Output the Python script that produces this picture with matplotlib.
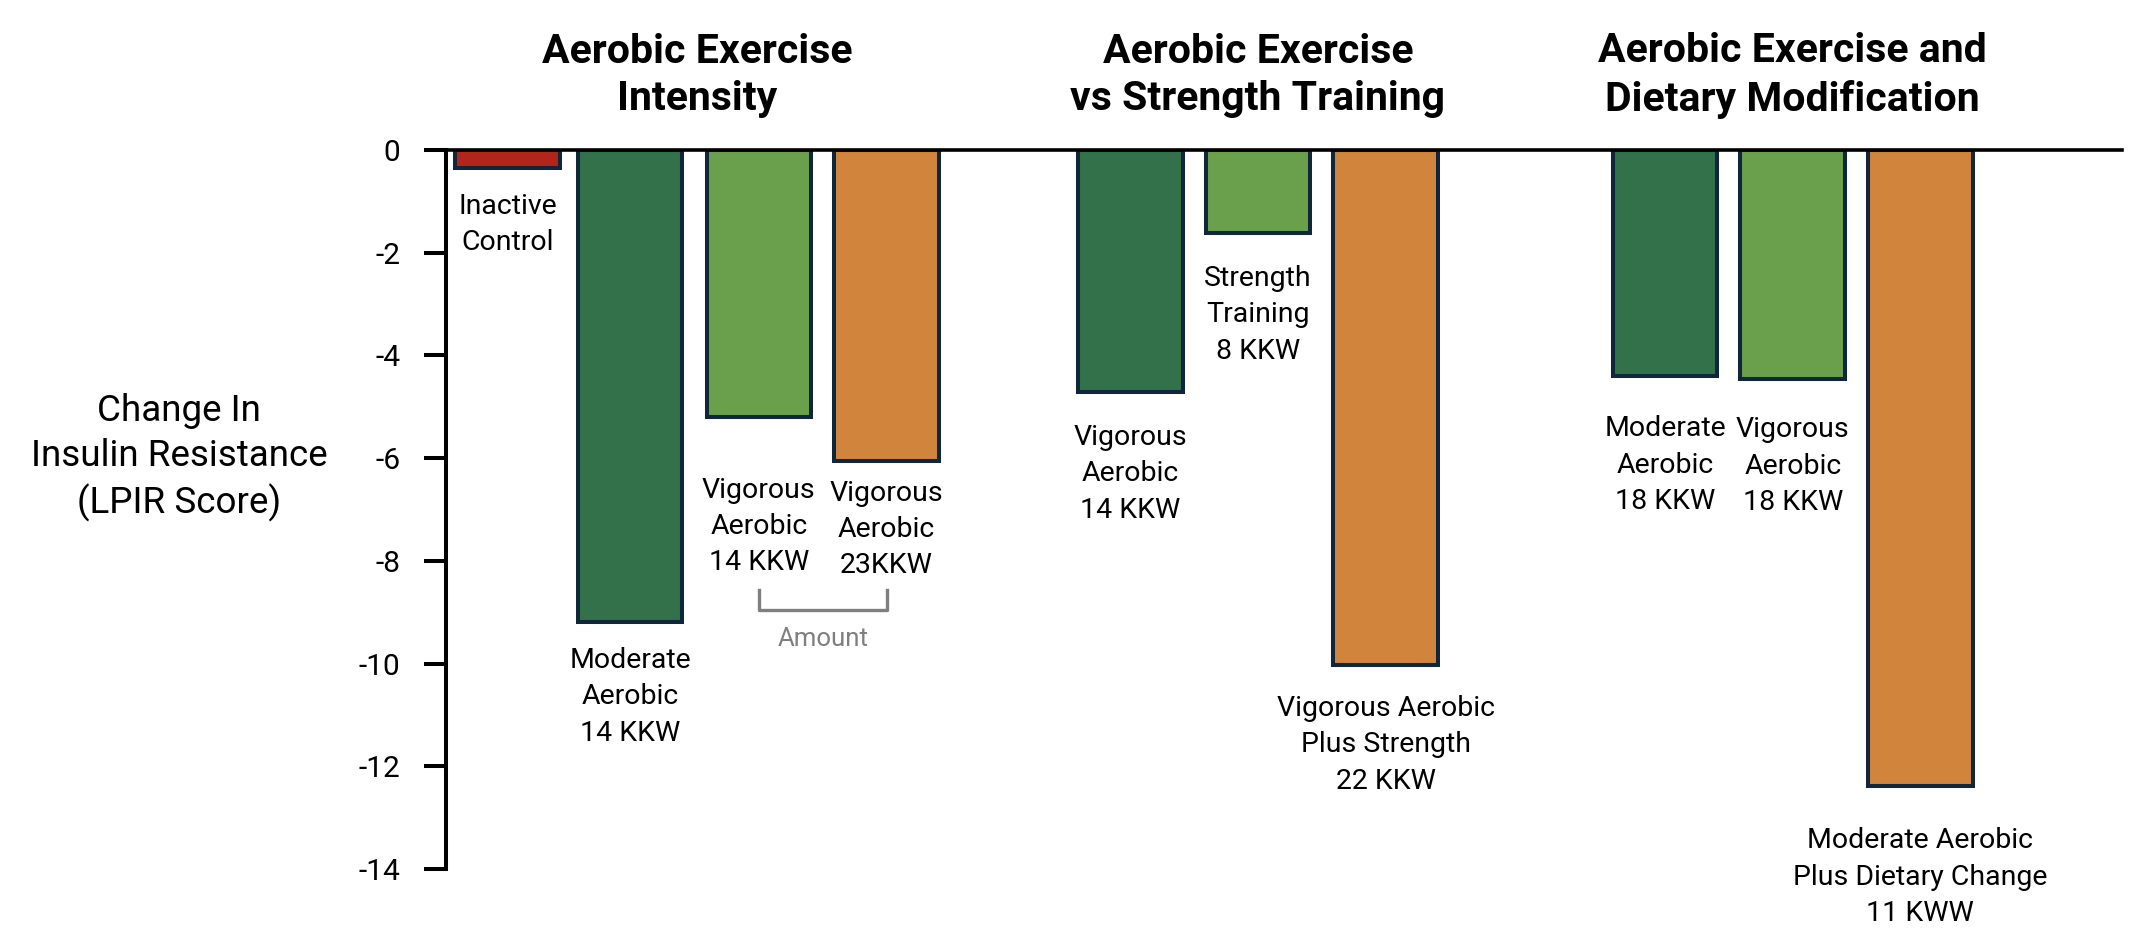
import matplotlib
matplotlib.use("Agg")
import matplotlib.pyplot as plt

plt.rcParams['font.family'] = ['Roboto', 'DejaVu Sans']

# data
groups = ['Aerobic Exercise\nIntensity',
          'Aerobic Exercise\nvs Strength Training',
          'Aerobic Exercise and\nDietary Modification']
labels = [
    ['Inactive\nControl', 'Moderate\nAerobic\n14 KKW',
     'Vigorous\nAerobic\n14 KKW', 'Vigorous\nAerobic\n23KKW'],
    ['Vigorous\nAerobic\n14 KKW', 'Strength\nTraining\n8 KKW',
     'Vigorous Aerobic\nPlus Strength\n22 KKW'],
    ['Moderate\nAerobic\n18 KKW', 'Vigorous\nAerobic\n18 KKW',
     'Moderate Aerobic\nPlus Dietary Change\n11 KWW'],
]
values = [
    [-0.35, -9.2, -5.2, -6.05],
    [-4.72, -1.62, -10.03],
    [-4.4, -4.46, -12.39],
]
kinds = [
    ['control', 'moderate', 'vigorous', 'combined'],
    ['moderate', 'vigorous', 'combined'],
    ['moderate', 'vigorous', 'combined'],
]
yticks = [0, -2, -4, -6, -8, -10, -12, -14]

# layout
colors = {'control': '#B2251B', 'moderate': '#32714A',
          'vigorous': '#6A9F4C', 'combined': '#D0843C'}
x_pos = [
    [0, 0.96, 1.97, 2.97],
    [4.88, 5.88, 6.88],
    [9.07, 10.07, 11.07],
]
label_y = [
    [-1.45, -10.65, -7.33, -7.39],
    [-6.30, -3.21, -11.58],
    [-6.14, -6.16, -14.16],
]
bar_w = 0.82

fig = plt.figure(figsize=(21.4, 9.52), dpi=100)
ax = fig.add_axes([0.2085, 0.0872, 0.7831, 0.7552])

for g, title in enumerate(groups):
    xs = x_pos[g]
    for i, v in enumerate(values[g]):
        ax.bar(xs[i], v, width=bar_w, color=colors[kinds[g][i]],
               edgecolor='#10263A', linewidth=2.9, zorder=2)
        ax.text(xs[i], label_y[g][i], labels[g][i], ha='center', va='center',
                fontsize=20.5, linespacing=1.45)
    ax.text((xs[0] + xs[-1]) / 2, 1.45, title, ha='center', va='center',
            fontsize=29.5, fontweight='bold', linespacing=1.32, clip_on=False)

# amount bracket
bx = [x_pos[0][2], x_pos[0][2], x_pos[0][3], x_pos[0][3]]
by = [-8.56, -8.95, -8.95, -8.56]
ax.plot(bx, by, color='#7F7F7F', linewidth=2.4, clip_on=False)
ax.text((bx[0] + bx[-1]) / 2, -9.52, 'Amount', ha='center', va='center',
        fontsize=18.5, color='#7F7F7F')

ax.set_xlim(-0.48, 12.65)
ax.set_ylim(-14, 0)
ax.set_yticks(yticks)
ax.set_yticklabels([str(t) for t in yticks], fontsize=21.5)
ax.set_xticks([])
ax.tick_params(axis='y', length=16, width=2.9, pad=17)
for s in ['right', 'bottom']:
    ax.spines[s].set_visible(False)
ax.spines['left'].set_linewidth(2.9)
ax.spines['top'].set_linewidth(2.6)
ax.spines['top'].set_zorder(3)

ax.text(-2.57, -5.98, 'Change In\nInsulin Resistance\n(LPIR Score)',
        ha='center', va='center', fontsize=26.5, linespacing=1.32)

fig.savefig('out.png', dpi=100)
